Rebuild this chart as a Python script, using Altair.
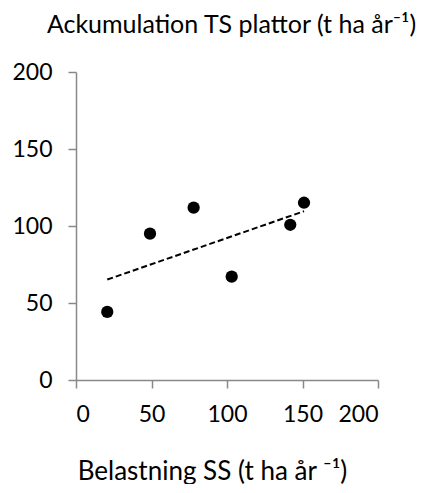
import altair as alt
import pandas as pd

x_vals = [20.7, 49.0, 77.9, 103.1, 141.9, 151.0]
y_vals = [44.2, 95.0, 111.9, 67.1, 100.8, 115.1]
ticks = [0, 50, 100, 150, 200]

df = pd.DataFrame({"x": x_vals, "y": y_vals})

FONT = "Lato"
AX = "#898989"

xenc = alt.X("x:Q", scale=alt.Scale(domain=[0, 200], nice=False, zero=False),
             axis=alt.Axis(values=ticks, title="Belastning SS  (t ha år ⁻¹)",
                           grid=False, domainColor=AX, tickColor=AX, domainWidth=1.5,
                           tickWidth=1.5, tickSize=8, labelFontSize=23, labelFont=FONT,
                           labelColor="black", labelPadding=15, titleFont=FONT,
                           titleFontSize=26, titleFontWeight="normal", titleColor="black",
                           titleX=136, titleY=99, titleBaseline="alphabetic",
                           titleAlign="center"))
yenc = alt.Y("y:Q", scale=alt.Scale(domain=[0, 200], nice=False, zero=False),
             axis=alt.Axis(values=ticks, title="Ackumulation TS plattor (t ha år⁻¹)",
                           grid=False, domainColor=AX, tickColor=AX, domainWidth=1.5,
                           tickWidth=1.5, tickSize=8, labelFontSize=23, labelFont=FONT,
                           labelColor="black", labelPadding=16, titleFont=FONT,
                           titleFontSize=25, titleFontWeight="normal", titleColor="black",
                           titleAngle=0, titleX=155, titleY=-40, titleBaseline="alphabetic",
                           titleAlign="center"))

points = alt.Chart(df).mark_circle(size=150, color="black", opacity=1).encode(x=xenc, y=yenc)
trend = alt.Chart(df).transform_regression("x", "y").mark_line(
    color="black", strokeDash=[6, 3], strokeWidth=2).encode(x="x:Q", y="y:Q")

chart = (trend + points).properties(
    width=302, height=308,
    autosize=alt.AutoSizeParams(type="none"),
    padding={"left": 68, "top": 64, "right": 54, "bottom": 104},
).configure_view(stroke=None)

chart.save("out.html", embed_options={"renderer": "svg", "actions": False})
